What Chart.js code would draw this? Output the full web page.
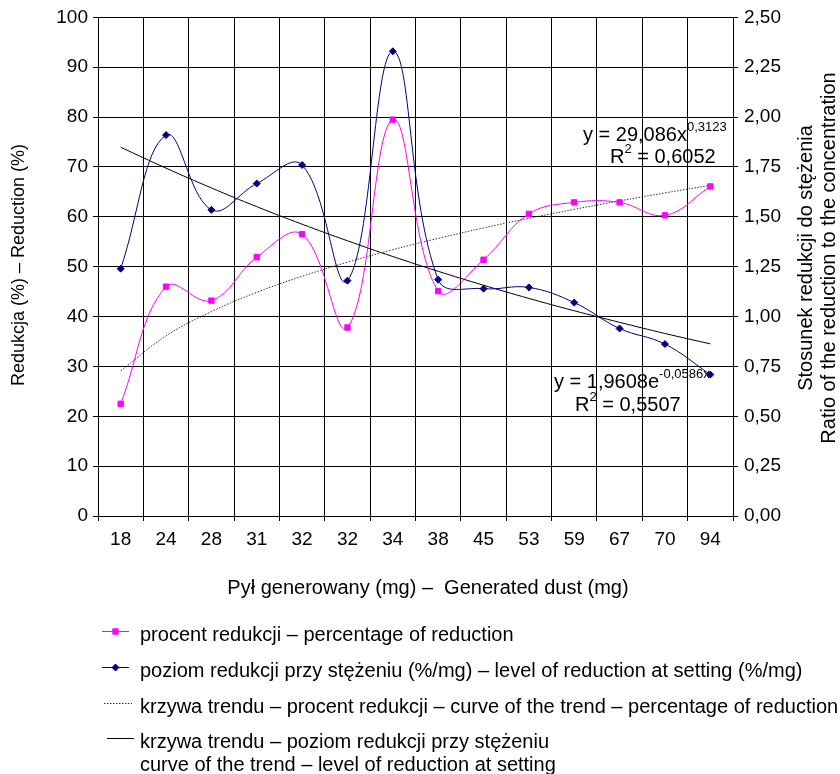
<!DOCTYPE html>
<html>
<head>
<meta charset="utf-8">
<script src="https://cdn.jsdelivr.net/npm/chart.js@4.4.1/dist/chart.umd.min.js"></script>
<style>
  html, body { margin: 0; padding: 0; background: #fff; }
  canvas { display: block; }
</style>
</head>
<body>
<canvas id="dustChart" width="840" height="774"></canvas>
<script>
/* ---------- data ---------- */
const dustLabels = ["18", "24", "28", "31", "32", "32", "34", "38", "45", "53", "59", "67", "70", "94"];

// procent redukcji (%), left axis
const reductionPct = [22.5, 46.0, 43.2, 51.9, 56.5, 37.8, 79.5, 45.1, 51.4, 60.6, 62.9, 62.9, 60.3, 66.1];

// poziom redukcji przy stężeniu, right axis
const reductionRatio = [1.24, 1.91, 1.535, 1.667, 1.76, 1.18, 2.33, 1.185, 1.14, 1.146, 1.07, 0.94, 0.862, 0.709];

// trend curves as drawn (power trend on left axis, exponential trend on right axis)
const pctTrend = [29.09, 36.12, 40.99, 44.85, 48.08, 50.90, 53.41, 55.68, 57.77, 59.70, 61.50, 63.20, 64.80, 66.32];
const ratioTrend = [1.849, 1.744, 1.645, 1.551, 1.463, 1.380, 1.301, 1.227, 1.157, 1.091, 1.029, 0.971, 0.915, 0.863];

const legendTexts = [
    ["procent redukcji – percentage of reduction"],
    ["poziom redukcji przy stężeniu (%/mg) – level of reduction at setting (%/mg)"],
    ["krzywa trendu – procent redukcji – curve of the trend – percentage of reduction"],
    ["krzywa trendu – poziom redukcji przy stężeniu", "curve of the trend – level of reduction at setting"]
];

/* ---------- look ---------- */
const FONT = "'Liberation Sans', Arial, sans-serif";
Chart.defaults.font.family = FONT;
Chart.defaults.color = "#000";

/* ---------- titles, equations and legend drawn on top ---------- */
const extrasPlugin = {
    id: "extras",
    afterDraw(chart) {
        const { ctx } = chart;
        ctx.save();
        ctx.fillStyle = "#000";

        // axis titles
        ctx.font = "20px " + FONT;
        ctx.textAlign = "center";
        ctx.textBaseline = "middle";
        ctx.fillText("Pył generowany (mg) –  Generated dust (mg)", 428, 588);

        ctx.save();
        ctx.font = "18px " + FONT;
        ctx.translate(19, 265);
        ctx.rotate(-Math.PI / 2);
        ctx.fillText("Redukcja (%) – Reduction (%)", 0, 0);
        ctx.restore();

        ctx.save();
        ctx.translate(806, 258);
        ctx.rotate(-Math.PI / 2);
        ctx.fillText("Stosunek redukcji do stężenia", 0, 0);
        ctx.fillText("Ratio of the reduction to the concentration", 0, 23);
        ctx.restore();

        // trend equations
        ctx.textAlign = "left";
        ctx.textBaseline = "alphabetic";
        function withSup(x, y, base, sup, rest) {
            ctx.font = "20px " + FONT;
            ctx.fillText(base, x, y);
            let w = ctx.measureText(base).width;
            ctx.font = "13px " + FONT;
            ctx.fillText(sup, x + w, y - 10);
            w += ctx.measureText(sup).width;
            if (rest) {
                ctx.font = "20px " + FONT;
                ctx.fillText(rest, x + w, y);
            }
        }
        withSup(583, 141, "y = 29,086x", "0,3123");
        withSup(610, 163, "R", "2", " = 0,6052");
        withSup(554, 388, "y = 1,9608e", "-0,0586x");
        withSup(575, 411, "R", "2", " = 0,5507");

        // legend
        const rows = [
            { y: 631, x0: 102, x1: 129, text: legendTexts[0], ds: 0, ty: [635] },
            { y: 667, x0: 102, x1: 129, text: legendTexts[1], ds: 1, ty: [671] },
            { y: 703, x0: 104, x1: 132, text: legendTexts[2], ds: 2, ty: [707] },
            { y: 738, x0: 107, x1: 134, text: legendTexts[3], ds: 3, ty: [742, 765] }
        ];
        rows.forEach(r => {
            const ds = chart.data.datasets[r.ds];
            ctx.save();
            ctx.strokeStyle = ds.borderColor;
            ctx.lineWidth = ds.borderWidth;
            ctx.setLineDash(ds.borderDash || []);
            ctx.beginPath();
            ctx.moveTo(r.x0, r.y + 0.5);
            ctx.lineTo(r.x1, r.y + 0.5);
            ctx.stroke();
            ctx.restore();
            if (ds.pointRadius > 0) {
                ctx.fillStyle = ds.pointBackgroundColor;
                ctx.strokeStyle = ds.pointBorderColor;
                Chart.helpers.drawPoint(ctx, {
                    pointStyle: ds.pointStyle, radius: ds.pointRadius,
                    borderWidth: 1, rotation: 0
                }, (r.x0 + r.x1) / 2, r.y + 0.5);
            }
            ctx.fillStyle = "#000";
            ctx.font = "20px " + FONT;
            ctx.textBaseline = "middle";
            r.text.forEach((t, i) => ctx.fillText(t, 140, r.ty[i]));
        });

        ctx.restore();
    }
};

new Chart(document.getElementById("dustChart"), {
    type: "line",
    data: {
        labels: dustLabels,
        datasets: [
            {
                label: "procent redukcji",
                data: reductionPct,
                yAxisID: "y",
                borderColor: "#ff00ff",
                borderWidth: 1,
                tension: 0.4,
                pointStyle: "rect",
                pointRadius: 3.8,
                pointBackgroundColor: "#ff00ff",
                pointBorderColor: "#ff00ff",
                order: 2
            },
            {
                label: "poziom redukcji przy stężeniu",
                data: reductionRatio,
                yAxisID: "y1",
                borderColor: "#000080",
                borderWidth: 1,
                tension: 0.4,
                pointStyle: "rectRot",
                pointRadius: 3.5,
                pointBackgroundColor: "#000080",
                pointBorderColor: "#000080",
                order: 1
            },
            {
                label: "krzywa trendu – procent redukcji",
                data: pctTrend,
                yAxisID: "y",
                borderColor: "#333",
                borderWidth: 1,
                borderDash: [1.5, 1.5],
                tension: 0.4,
                pointRadius: 0,
                order: 3
            },
            {
                label: "krzywa trendu – poziom redukcji",
                data: ratioTrend,
                yAxisID: "y1",
                borderColor: "#000",
                borderWidth: 1,
                tension: 0.4,
                pointRadius: 0,
                order: 4
            }
        ]
    },
    options: {
        responsive: false,
        animation: false,
        devicePixelRatio: 1,
        layout: { padding: { top: 17, left: 0, right: 0, bottom: 218 } },
        plugins: {
            legend: { display: false },
            tooltip: { enabled: false }
        },
        scales: {
            x: {
                offset: true,
                grid: { offset: true, color: "#000", tickLength: 5 },
                border: { color: "#000" },
                ticks: { font: { size: 19 }, padding: 7, maxRotation: 0, autoSkip: false },
                afterFit(scale) { scale.height = 40; }
            },
            y: {
                position: "left",
                min: 0,
                max: 100,
                grid: { color: "#000", tickLength: 5 },
                border: { color: "#000" },
                ticks: { stepSize: 10, font: { size: 19 }, padding: 5 },
                afterFit(scale) { scale.width = 98; }
            },
            y1: {
                position: "right",
                min: 0,
                max: 2.5,
                grid: { drawOnChartArea: false, color: "#000", tickLength: 5 },
                border: { color: "#000" },
                ticks: {
                    stepSize: 0.25,
                    font: { size: 19 },
                    padding: 6,
                    callback: v => v.toFixed(2).replace(".", ",")
                },
                afterFit(scale) { scale.width = 107; }
            }
        }
    },
    plugins: [extrasPlugin]
});
</script>
</body>
</html>
